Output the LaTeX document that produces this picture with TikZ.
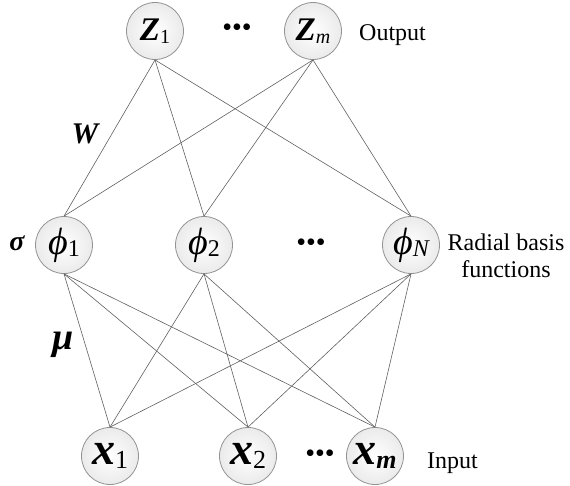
\documentclass[tikz,border=0pt]{standalone}
\usepackage{fontspec}
\setmainfont{Liberation Serif}
\newcommand{\bigZ}[1]{{\fontsize{33}{33}\selectfont\bfseries\itshape Z}\raisebox{-0.7ex}{#1}}
\newcommand{\bigX}[1]{{\fontsize{46}{46}\selectfont\bfseries\itshape x}\raisebox{-0.8ex}{#1}}
\newcommand{\bigPhi}[1]{{\fontsize{38}{38}\selectfont\itshape ϕ}\raisebox{-0.6ex}{#1}}
\begin{document}
\begin{tikzpicture}[x=1pt,y=-1pt,
  neuron/.style={circle, draw=gray!85, line width=0.8pt, minimum size=57pt, inner sep=0pt,
    inner color=white, outer color=gray!16},
  link/.style={draw=gray!75!black, line width=0.6pt},
  lbl/.style={font=\fontsize{24}{27}\selectfont, inner sep=0pt},
  dotsnode/.style={font=\fontsize{28}{28}\selectfont, inner sep=0pt}]
\useasboundingbox (0,0) rectangle (570,485);
% output layer
\node[neuron] (z1) at (155,31) {\bigZ{\fontsize{20}{20}\selectfont 1}};
\node[neuron] (zm) at (313,31) {\bigZ{\fontsize{20}{20}\selectfont\itshape m}};
\node[dotsnode] (zd) at (237,30) {•••};
\node[lbl, anchor=base west] (out) at (359,40) {Output};
% hidden layer
\node[neuron] (p1) at (64,245) {\bigPhi{\fontsize{24}{24}\selectfont 1}};
\node[neuron] (p2) at (204,245) {\bigPhi{\fontsize{24}{24}\selectfont 2}};
\node[dotsnode] (pd) at (311,245) {•••};
\node[neuron] (pn) at (411,245) {\bigPhi{\fontsize{24}{24}\selectfont\itshape N}};
\node[lbl, anchor=base] (rbf) at (506,250) {Radial basis};
\node[lbl, anchor=base] (rbf2) at (506,277) {functions};
\node[font=\fontsize{28}{28}\selectfont\bfseries\itshape, inner sep=0pt] (sig) at (17,243) {σ};
% input layer
\node[neuron] (x1) at (110,456) {\bigX{\fontsize{26}{26}\selectfont 1}};
\node[neuron] (x2) at (248,456) {\bigX{\fontsize{26}{26}\selectfont 2}};
\node[dotsnode] (xd) at (320,456) {•••};
\node[neuron] (xm) at (375,456) {\bigX{\fontsize{26}{26}\selectfont\bfseries\itshape m}};
\node[lbl, anchor=base west] (inp) at (427,468) {Input};
% weight labels
\node[font=\fontsize{30}{30}\selectfont\bfseries\itshape, inner sep=0pt] (w) at (85,134) {W};
\node[font=\fontsize{38}{38}\selectfont\bfseries\itshape, inner sep=0pt] (mu) at (63,345) {μ};
% connections
\foreach \a in {z1,zm}{
  \foreach \b in {p1,p2,pn}{
    \draw[link] (\a.south) -- (\b.north);
  }
}
\foreach \a in {p1,p2,pn}{
  \foreach \b in {x1,x2,xm}{
    \draw[link] (\a.south) -- (\b.north);
  }
}
\end{tikzpicture}
\end{document}
